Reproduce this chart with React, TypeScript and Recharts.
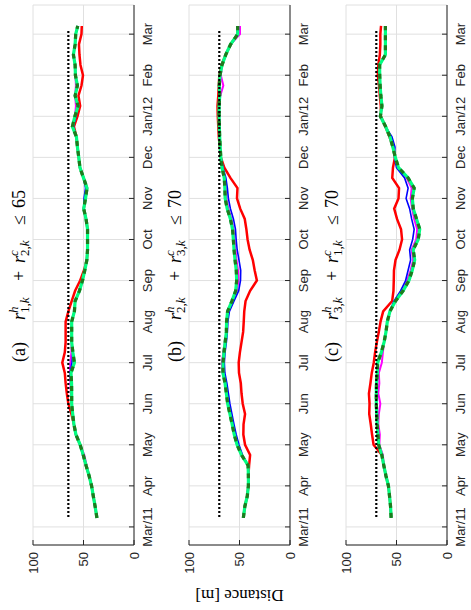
import { LineChart, Line, XAxis, YAxis, CartesianGrid } from 'recharts';

// month ticks (0 = Mar 2011 ... 12 = Mar 2012)
const MONTHS = ['Mar/11', 'Apr', 'May', 'Jun', 'Jul', 'Aug', 'Sep', 'Oct', 'Nov', 'Dec', 'Jan/12', 'Feb', 'Mar'];
const MONTH_TICKS = [0, 1, 2, 3, 4, 5, 6, 7, 8, 9, 10, 11, 12];
const DIST_TICKS = [0, 50, 100];

// sample times, in months since Mar/11
const T = [0.22, 0.5, 0.75, 1, 1.25, 1.5, 1.75, 2, 2.25, 2.5, 2.75, 3, 3.25, 3.5, 3.75, 4, 4.25, 4.5, 4.75, 5, 5.25, 5.5, 5.75, 6, 6.25, 6.5, 6.75, 7, 7.25, 7.5, 7.75, 8, 8.25, 8.5, 8.75, 9, 9.25, 9.5, 9.75, 10, 10.25, 10.5, 10.75, 11, 11.25, 11.5, 11.75, 12, 12.2];

// (a)
const A_RED = [36.7, 38.5, 40.3, 42, 44.5, 47.5, 50.2, 53.3, 57.5, 59.5, 62, 65, 66.5, 67.7, 68.5, 71, 68.5, 67.7, 67.7, 67.7, 65, 61.7, 58.3, 53.3, 49.5, 46.7, 46, 46, 46, 47.5, 49.8, 48, 46.5, 50, 53.5, 54.7, 56, 57, 59.5, 56, 53.3, 55, 52, 50.5, 53, 54, 54.5, 52, 51.7];
const A_MAGENTA = [36.7, 38.5, 40.3, 42, 44.5, 47, 49.2, 53.3, 57.5, 59.5, 60.7, 61.7, 62.5, 63, 63.5, 63, 62, 61.7, 61.7, 61.7, 59, 58.3, 54, 51, 48.7, 46.7, 46, 46, 46, 47.5, 49.8, 48, 46.5, 50, 53.5, 54.7, 56, 57, 61, 58.5, 57.5, 58.3, 57.5, 58, 58.3, 60, 58.3, 57.7, 55.7];
const A_BLUE = [36.7, 38.5, 40.3, 42, 44.5, 47.8, 50.8, 53.3, 57.5, 59.5, 60.7, 61.7, 61.7, 62.5, 63, 61.5, 60.5, 61.7, 61.7, 61.7, 59, 58.3, 54, 51, 48.7, 46.7, 46, 46, 46, 47.5, 49.8, 49.5, 48, 50, 53.5, 54.7, 56, 57, 60, 57.5, 55.3, 58.3, 56, 58, 58.3, 60, 58.3, 57.7, 55.7];
const A_GREEN = [36.7, 38.5, 40.3, 42, 44.5, 47.5, 50.2, 53.3, 57.5, 59.5, 60.7, 61.7, 61.7, 61.8, 62.4, 59, 60.5, 61.7, 61.7, 61.7, 59, 58.3, 54, 51, 48.7, 46.7, 46, 46, 46, 47.5, 49.8, 48, 46.5, 50, 53.5, 54.7, 56, 57, 61, 58.5, 55.3, 58.3, 56, 58, 58.3, 60, 58.3, 57.7, 55.7];

// (b)
const B_RED = [46.2, 44.7, 42.3, 41.2, 41.2, 40.5, 39.5, 44.5, 46.2, 46, 44.5, 46.8, 48, 48.7, 50.5, 50.8, 49.6, 48, 46.4, 45.8, 45.3, 44, 39.5, 32.8, 35, 36.8, 40, 42, 43.2, 44.8, 49.3, 52.5, 52, 59, 65, 68.5, 69.5, 70.5, 71, 71.5, 71.8, 71, 70.5, 70, 67.8, 63.6, 58.8, 51.8, 51.8];
const B_MAGENTA = [46.2, 44.7, 42.3, 41.2, 41.2, 41.5, 47.5, 51.5, 54.3, 56.5, 58.5, 60.7, 62.2, 64, 66.8, 67.5, 66, 64.5, 63, 62.5, 61, 56.5, 52.5, 51, 51.5, 53, 54, 55, 56, 58, 61, 63, 63.5, 64.5, 67, 68.5, 69.1, 69.6, 70, 70.2, 70.2, 69, 66, 68.5, 67.3, 63.6, 58.8, 49.5, 49.5];
const B_BLUE = [46.2, 44.7, 42.3, 41.2, 41.2, 41.5, 47, 50.5, 53.3, 55.5, 57.5, 59.5, 61, 62.5, 64.5, 65, 64.3, 63, 62, 61.5, 60, 55.5, 50.8, 49, 48.8, 50.5, 52.3, 53.3, 54, 56, 59, 61, 62, 63.5, 66.3, 68.3, 69.1, 69.6, 70, 70.2, 70.2, 69.6, 70, 69.3, 67.3, 63.6, 58.8, 51.8, 51.8];
const B_GREEN = [46.2, 44.7, 42.3, 41.2, 41.2, 41.5, 48, 52.4, 55.2, 57.3, 59.5, 61.7, 63, 64.3, 66.4, 66.3, 65.4, 64.2, 63, 62.8, 61.8, 57.5, 53.8, 52.8, 53.2, 54.4, 55.4, 56.1, 56.9, 59, 62.2, 64.2, 64.5, 65.1, 67.3, 68.5, 69.1, 69.6, 70, 70.2, 70.2, 69.6, 70, 69.3, 67.3, 63.6, 58.8, 51.8, 51.8];

// (c)
const C_RED = [55.3, 55.9, 56.9, 58, 60.5, 62.6, 64.5, 72.7, 74.2, 75.5, 77, 76.7, 77.3, 75.8, 74.5, 72.5, 71.2, 69.5, 67.5, 65.8, 63.2, 54.3, 53, 52.7, 52.5, 51, 47, 44.5, 45.5, 49.5, 52.3, 48, 47.5, 54.2, 53.5, 51.5, 53.5, 57, 61, 65.5, 65.5, 66.5, 67.3, 68.5, 68, 66.5, 66, 66, 65.3];
const C_MAGENTA = [55.3, 55.9, 56.9, 58, 60.5, 62.6, 63.5, 67, 66.5, 68, 67.5, 66, 68, 67, 67.5, 64.5, 63.5, 62.3, 60.4, 59.1, 56.5, 52, 45, 39.5, 36, 33.5, 35, 30.5, 29.5, 32.5, 34.5, 36, 35, 40, 48.5, 51.5, 53, 56, 60.8, 66, 64.4, 65.5, 66.2, 66.6, 66.7, 61, 61, 61, 61];
const C_BLUE = [55.3, 55.9, 56.9, 58, 60.5, 62.6, 64.5, 67.7, 68.4, 69.1, 69.6, 70, 70, 69.8, 69, 68.7, 65, 62.3, 60.4, 59.1, 56.5, 52.5, 46, 41, 38.5, 36, 37, 34, 32.5, 35, 37, 40.5, 38.5, 42, 50, 52, 51.5, 54.5, 60.8, 66, 64.4, 65.5, 66.2, 66.6, 66.7, 61, 61, 61, 61];
const C_GREEN = [55.3, 55.9, 56.9, 58, 60.5, 62.6, 64.5, 67.7, 68.4, 69.1, 69.6, 70, 70, 69.8, 69, 68.7, 65, 62.3, 60.4, 59.1, 56.5, 51, 43.5, 37.7, 34.4, 32, 33.5, 28.5, 27, 30.2, 33.4, 34.3, 32.5, 38.5, 48, 51.2, 53.6, 56.5, 60.8, 66, 64.4, 65.5, 66.2, 66.6, 66.7, 61, 61, 61, 61];

// constraint bounds (dotted lines)
const LIMIT_SPAN = [0.24, 12.12];
const LIMITS = [65, 70, 70];

const INK = '#262626';
const SANS = "'Liberation Sans', Arial, Helvetica, sans-serif";
const SERIF = "'Liberation Serif', 'Times New Roman', serif";

function makeRows(red: number[], mag: number[], blue: number[], green: number[]) {
  return T.map((m, i) => ({ m, red: red[i], mag: mag[i], blue: blue[i], green: green[i] }));
}

function Panel({ top, rows, limit }: { top: number; rows: any[]; limit: number }) {
  const lim = LIMIT_SPAN.map((m) => ({ m, lim: limit }));
  const line = { type: 'linear' as const, dot: false, activeDot: false, isAnimationActive: false };
  return (
    <div style={{ position: 'absolute', left: 0, top: top - 10 }}>
      <LineChart width={610} height={135} data={rows} margin={{ top: 10, right: 5, bottom: 0, left: 0 }}>
        <CartesianGrid stroke="#e0e0e0" />
        <XAxis
          dataKey="m"
          type="number"
          domain={[-0.44, 12.71]}
          allowDataOverflow
          ticks={MONTH_TICKS}
          interval={0}
          tickFormatter={(v: number) => MONTHS[v]}
          height={24}
          tickSize={-5}
          tickMargin={14}
          stroke={INK}
          tick={{ fill: INK, fontSize: 13, fontFamily: SANS }}
        />
        <XAxis
          xAxisId="top"
          orientation="top"
          type="number"
          domain={[-0.44, 12.71]}
          allowDataOverflow
          ticks={MONTH_TICKS}
          interval={0}
          height={0}
          tick={false}
          tickSize={-5}
          stroke={INK}
        />
        <YAxis
          type="number"
          domain={[0, 100]}
          ticks={DIST_TICKS}
          interval={0}
          width={65}
          tickSize={-5}
          tickMargin={12}
          stroke={INK}
          tick={{ fill: INK, fontSize: 13, fontFamily: SANS }}
        />
        <YAxis
          yAxisId="right"
          orientation="right"
          type="number"
          domain={[0, 100]}
          ticks={DIST_TICKS}
          width={0}
          tick={false}
          tickSize={-5}
          stroke={INK}
        />
        <Line {...line} dataKey="red" stroke="#ff0000" strokeWidth={2.5} />
        <Line {...line} dataKey="mag" stroke="#ff00ff" strokeWidth={2} />
        <Line {...line} dataKey="blue" stroke="#0000ff" strokeWidth={1.6} />
        <Line {...line} dataKey="green" stroke="#00ff80" strokeWidth={3.2} />
        <Line {...line} dataKey="green" stroke="#1e7b1e" strokeWidth={3.2} strokeDasharray="5 5" />
        <Line {...line} data={lim} dataKey="lim" stroke="#000" strokeWidth={2.2} strokeDasharray="2 2" />
      </LineChart>
    </div>
  );
}

function Title({ y, tag, i1, i2, bound }: { y: number; tag: string; i1: string; i2: string; bound: number }) {
  return (
    <g fontFamily={SERIF} fill="#000">
      <text x={248} y={y} fontSize={18}>({tag})</text>
      <text x={290} y={y} fontSize={18} fontStyle="italic">r</text>
      <text x={297} y={y - 7} fontSize={13} fontStyle="italic">h</text>
      <text x={297} y={y + 4} fontSize={13}>{i1},<tspan fontStyle="italic">k</tspan></text>
      <text x={329} y={y} fontSize={18}>+</text>
      <text x={347} y={y} fontSize={18} fontStyle="italic">r</text>
      <text x={354} y={y - 7} fontSize={13} fontStyle="italic">c</text>
      <text x={354} y={y + 4} fontSize={13}>{i2},<tspan fontStyle="italic">k</tspan></text>
      <text x={385} y={y} fontSize={18}>≤</text>
      <text x={402} y={y} fontSize={18}>{bound}</text>
    </g>
  );
}

export default function App() {
  const rowsA = makeRows(A_RED, A_MAGENTA, A_BLUE, A_GREEN);
  const rowsB = makeRows(B_RED, B_MAGENTA, B_BLUE, B_GREEN);
  const rowsC = makeRows(C_RED, C_MAGENTA, C_BLUE, C_GREEN);
  return (
    <div
      style={{
        position: 'absolute',
        left: 0,
        top: 0,
        width: 610,
        height: 471,
        overflow: 'hidden',
        background: '#fff',
        fontFamily: SANS,
        transformOrigin: '0 0',
        transform: 'translate(0px, 610px) rotate(-90deg)',
      }}
    >
      <Panel top={33} rows={rowsA} limit={LIMITS[0]} />
      <Panel top={189} rows={rowsB} limit={LIMITS[1]} />
      <Panel top={346} rows={rowsC} limit={LIMITS[2]} />
      <svg width={610} height={471} style={{ position: 'absolute', left: 0, top: 0, pointerEvents: 'none' }}>
        <Title y={25} tag="a" i1="1" i2="2" bound={65} />
        <Title y={181} tag="b" i1="2" i2="3" bound={70} />
        <Title y={338} tag="c" i1="3" i2="1" bound={70} />
        <text x={20} y={239.5} transform="rotate(-90 20 239.5)" textAnchor="middle" fontFamily={SERIF} fontSize={17}>
          Distance [m]
        </text>
      </svg>
    </div>
  );
}
